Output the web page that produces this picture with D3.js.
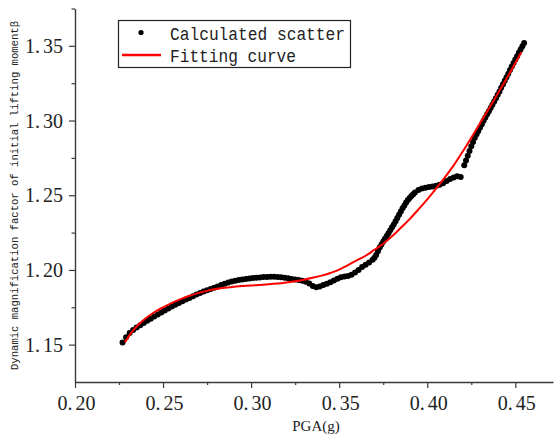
<!DOCTYPE html>
<html><head><meta charset="utf-8">
<script src="https://cdn.jsdelivr.net/npm/d3@7"></script>
<style>html,body{margin:0;padding:0;background:#fff;}svg{display:block;}</style>
</head><body>
<svg id="chart" width="554" height="438"></svg>
<script>
const pgaScatter = [0.227,0.229,0.231,0.233,0.235,0.237,0.239,0.241,0.243,0.245,0.247,0.249,0.251,0.253,0.255,0.257,0.259,0.261,0.263,0.265,0.267,0.269,0.271,0.273,0.275,0.277,0.279,0.281,0.283,0.285,0.287,0.289,0.291,0.293,0.295,0.297,0.299,0.301,0.303,0.305,0.307,0.309,0.311,0.313,0.315,0.317,0.319,0.321,0.323,0.325,0.327,0.329,0.331,0.333,0.335,0.337,0.339,0.341,0.343,0.345,0.347,0.349,0.351,0.353,0.355,0.357,0.359,0.361,0.363,0.365,0.367,0.369,0.370,0.371,0.372,0.373,0.374,0.375,0.376,0.377,0.378,0.379,0.380,0.381,0.382,0.383,0.384,0.385,0.386,0.387,0.388,0.389,0.390,0.391,0.392,0.393,0.395,0.397,0.399,0.401,0.403,0.405,0.407,0.409,0.411,0.413,0.415,0.417,0.419,0.421,0.422,0.423,0.424,0.425,0.426,0.427,0.428,0.429,0.430,0.431,0.432,0.433,0.434,0.435,0.436,0.437,0.438,0.439,0.440,0.441,0.442,0.443,0.444,0.445,0.446,0.447,0.448,0.449,0.450,0.451,0.452,0.453,0.454,0.455];
const betaScatter = [1.1515,1.1550,1.1578,1.1598,1.1615,1.1630,1.1645,1.1660,1.1674,1.1688,1.1702,1.1716,1.1729,1.1742,1.1755,1.1767,1.1779,1.1791,1.1802,1.1813,1.1824,1.1836,1.1846,1.1855,1.1864,1.1872,1.1881,1.1890,1.1899,1.1908,1.1916,1.1922,1.1927,1.1932,1.1936,1.1940,1.1943,1.1946,1.1948,1.1950,1.1952,1.1953,1.1954,1.1954,1.1953,1.1951,1.1948,1.1944,1.1940,1.1936,1.1932,1.1927,1.1921,1.1910,1.1893,1.1884,1.1889,1.1899,1.1907,1.1918,1.1930,1.1941,1.1951,1.1956,1.1960,1.1968,1.1983,1.2000,1.2019,1.2035,1.2050,1.2068,1.2082,1.2100,1.2126,1.2150,1.2171,1.2190,1.2209,1.2228,1.2246,1.2265,1.2285,1.2305,1.2326,1.2347,1.2370,1.2392,1.2413,1.2432,1.2451,1.2468,1.2482,1.2495,1.2507,1.2518,1.2535,1.2545,1.2551,1.2555,1.2559,1.2564,1.2570,1.2580,1.2595,1.2609,1.2619,1.2627,1.2622,1.2700,1.2733,1.2765,1.2797,1.2828,1.2857,1.2885,1.2908,1.2930,1.2953,1.2975,1.2998,1.3020,1.3042,1.3063,1.3084,1.3105,1.3127,1.3150,1.3172,1.3195,1.3219,1.3243,1.3267,1.3290,1.3314,1.3338,1.3362,1.3385,1.3408,1.3430,1.3453,1.3475,1.3497,1.3519];
const pgaFit = [0.2284,0.232,0.236,0.240,0.245,0.250,0.255,0.260,0.265,0.270,0.275,0.280,0.285,0.290,0.295,0.300,0.305,0.310,0.315,0.320,0.325,0.330,0.335,0.340,0.345,0.350,0.355,0.360,0.365,0.370,0.375,0.380,0.385,0.390,0.395,0.400,0.405,0.410,0.415,0.420,0.425,0.430,0.435,0.440,0.445,0.450,0.4534];
const betaFit = [1.1515,1.1580,1.1633,1.1675,1.1717,1.1750,1.1780,1.1805,1.1827,1.1845,1.1860,1.1872,1.1881,1.1887,1.1892,1.1896,1.1900,1.1904,1.1909,1.1916,1.1924,1.1935,1.1948,1.1962,1.1980,1.2002,1.2033,1.2064,1.2095,1.2135,1.2175,1.2225,1.2282,1.2340,1.2405,1.2473,1.2545,1.2620,1.2700,1.2790,1.2885,1.2982,1.3080,1.3180,1.3280,1.3385,1.3458];
const xTicks = [0.20,0.25,0.30,0.35,0.40,0.45];
const xMinor = [0.225,0.275,0.325,0.375,0.425];
const yTicks = [1.15,1.20,1.25,1.30,1.35];
const yMinor = [1.175,1.225,1.275,1.325,1.375];
const seriesNames = ["Calculated scatter","Fitting curve"];
const xTitle = "PGA(g)";
const yTitle = "Dynamic magnification factor of initial lifting momentβ";

const svg = d3.select("#chart");
const x = d3.scaleLinear().domain([0.2, 0.4714]).range([75, 553]);
const y = d3.scaleLinear().domain([1.125, 1.375]).range([382, 8.5]);
const axisColor = "#3a3a3a";
const tickFont = "'Liberation Serif', 'Times New Roman', serif";

// Axes
const gx = svg.append("g").attr("transform", `translate(0,${y(1.125)})`);
gx.call(d3.axisBottom(x).tickValues(xTicks).tickSize(6).tickSizeOuter(0).tickFormat(""));
const gxm = svg.append("g").attr("transform", `translate(0,${y(1.125)})`);
gxm.call(d3.axisBottom(x).tickValues(xMinor).tickSize(3).tickSizeOuter(0).tickFormat(""));
gxm.select(".domain").remove();

const gy = svg.append("g").attr("transform", `translate(${x(0.2)},0)`);
gy.call(d3.axisLeft(y).tickValues(yTicks).tickSize(6).tickSizeOuter(0).tickFormat(""));
const gym = svg.append("g").attr("transform", `translate(${x(0.2)},0)`);
gym.call(d3.axisLeft(y).tickValues(yMinor).tickSize(3.5).tickSizeOuter(0).tickFormat(""));
gym.select(".domain").remove();

svg.selectAll(".domain").attr("stroke", axisColor).attr("stroke-width", 1.4);
svg.selectAll(".tick line").attr("stroke", axisColor).attr("stroke-width", 1.2);

function splitLabel(sel, str) {
  const parts = str.split(".");
  sel.append("tspan").text(parts[0] + ".");
  sel.append("tspan").attr("dx", 3).text(parts[1]);
}

// tick labels
xTicks.forEach(v => {
  const t = svg.append("text")
    .attr("x", x(v) + 1.5).attr("y", 410)
    .attr("text-anchor", "middle")
    .attr("font-family", tickFont).attr("font-size", 20).attr("fill", "#222");
  splitLabel(t, v.toFixed(2));
});
yTicks.forEach(v => {
  const t = svg.append("text")
    .attr("x", 63).attr("y", y(v) + 7)
    .attr("text-anchor", "end")
    .attr("font-family", tickFont).attr("font-size", 20).attr("fill", "#222");
  splitLabel(t, v.toFixed(2));
});

// axis titles
svg.append("text").attr("x", 316).attr("y", 431)
  .attr("text-anchor", "middle")
  .attr("font-family", tickFont).attr("font-size", 15).attr("fill", "#222")
  .text(xTitle);
svg.append("text")
  .attr("transform", "translate(17.5,195.5) rotate(-90)")
  .attr("text-anchor", "middle")
  .attr("font-family", "'Liberation Mono', monospace").attr("font-size", 11).attr("fill", "#222")
  .attr("textLength", 349).attr("lengthAdjust", "spacingAndGlyphs")
  .text(yTitle);

// scatter
const scatter = pgaScatter.map((p, i) => ({ p, b: betaScatter[i] }));
svg.append("g").selectAll("circle").data(scatter).join("circle")
  .attr("cx", d => x(d.p)).attr("cy", d => y(d.b)).attr("r", 3).attr("fill", "#000");

// fitting curve
const fit = pgaFit.map((p, i) => ({ p, b: betaFit[i] }));
svg.append("path").datum(fit)
  .attr("fill", "none").attr("stroke", "#ff0000").attr("stroke-width", 2)
  .attr("d", d3.line().x(d => x(d.p)).y(d => y(d.b)).curve(d3.curveCatmullRom));

// legend
const lg = svg.append("g");
lg.append("rect").attr("x", 118.5).attr("y", 20.5).attr("width", 232).attr("height", 47)
  .attr("fill", "#fff").attr("stroke", "#222").attr("stroke-width", 1.2);
lg.append("circle").attr("cx", 141).attr("cy", 32.5).attr("r", 2.6).attr("fill", "#000");
lg.append("line").attr("x1", 122).attr("x2", 161).attr("y1", 55).attr("y2", 55)
  .attr("stroke", "#ff0000").attr("stroke-width", 2.5);
lg.append("text").attr("x", 170).attr("y", 39.5)
  .attr("font-family", "'Liberation Mono', monospace").attr("font-size", 18).attr("fill", "#222")
  .attr("textLength", 175).attr("lengthAdjust", "spacingAndGlyphs")
  .text(seriesNames[0]);
lg.append("text").attr("x", 170).attr("y", 61.5)
  .attr("font-family", "'Liberation Mono', monospace").attr("font-size", 18).attr("fill", "#222")
  .attr("textLength", 126).attr("lengthAdjust", "spacingAndGlyphs")
  .text(seriesNames[1]);
</script>
</body></html>
